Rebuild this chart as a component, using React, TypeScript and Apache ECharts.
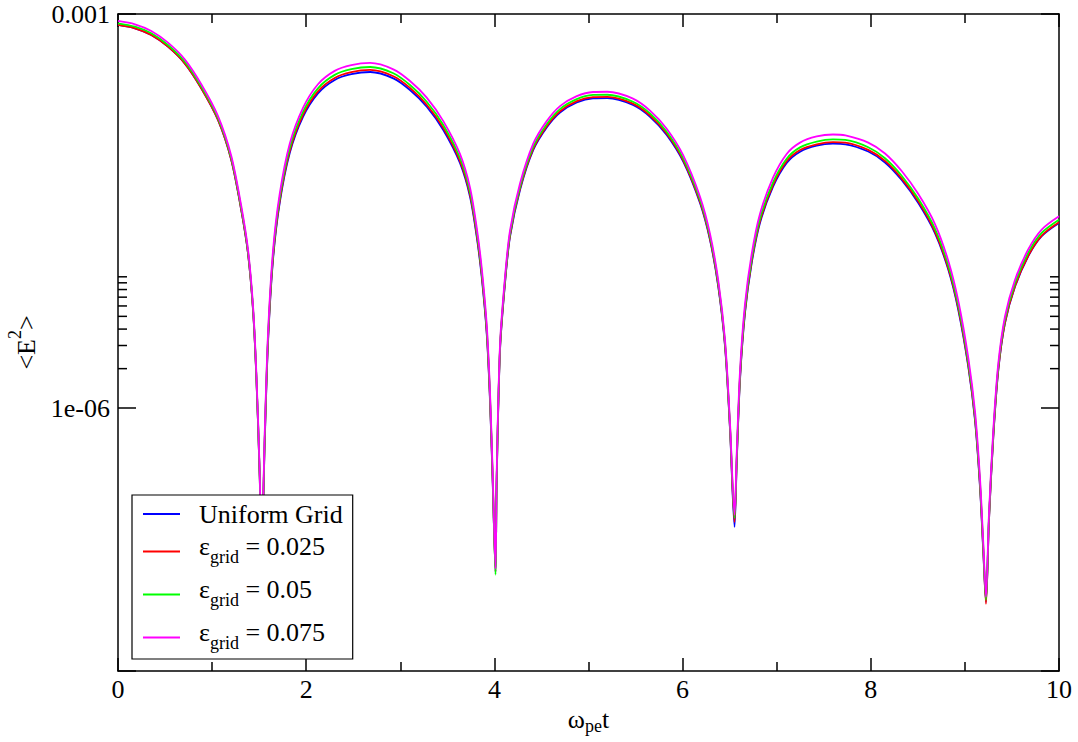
import React, { useEffect, useRef } from "react";
import * as echarts from "echarts";

// Time axis (ω_pe t) shared by all four runs
const omegaT = [
  0, 0.18, 0.354, 0.531, 0.709, 0.885, 1.063, 1.204, 1.31, 1.381, 1.435, 1.47, 1.506, 1.525,
  1.559, 1.594, 1.647, 1.718, 1.825, 1.966, 2.125, 2.303, 2.479, 2.68, 2.926, 3.103, 3.281, 3.457,
  3.634, 3.741, 3.812, 3.865, 3.918, 3.953, 3.982, 4.012,
  4.024, 4.06, 4.113, 4.166, 4.272, 4.413, 4.556, 4.697, 4.875, 5.048, 5.2, 5.473, 5.654, 5.831,
  6.007, 6.185, 6.291, 6.379, 6.451, 6.504, 6.552,
  6.575, 6.61, 6.663, 6.734, 6.822, 6.961, 7.106, 7.248, 7.425, 7.598, 7.73, 7.973, 8.151, 8.328,
  8.505, 8.682, 8.824, 8.93, 9.036, 9.107, 9.16, 9.196, 9.224,
  9.256, 9.302, 9.355, 9.426, 9.532, 9.674, 9.816, 10,
];

// <E^2> for the uniform grid
const uniformGrid = [
  8.25e-4, 7.78e-4, 6.92e-4, 5.64e-4, 4.21e-4, 2.72e-4, 1.56e-4, 7.74e-5, 3.22e-5, 1.52e-5, 5.59e-6, 1.74e-6, 3.01e-7, 7.0e-8,
  5.43e-7, 3.13e-6, 1.34e-5, 3.64e-5, 8.76e-5, 1.65e-4, 2.49e-4, 3.15e-4, 3.48e-4, 3.62e-4, 3.24e-4, 2.64e-4, 1.97e-4, 1.31e-4,
  7.35e-5, 4.07e-5, 2.02e-5, 1.0e-5, 3.73e-6, 1.15e-6, 2.7e-7, 5.67e-8,
  2.7e-7, 2.77e-6, 8.97e-6, 2.02e-5, 4.58e-5, 9.23e-5, 1.37e-4, 1.78e-4, 2.12e-4, 2.28e-4, 2.29e-4, 2.03e-4, 1.65e-4, 1.2e-4,
  7.52e-5, 3.64e-5, 1.91e-5, 8.41e-6, 2.94e-6, 6.83e-7, 1.25e-7,
  3.83e-7, 1.64e-6, 5.3e-6, 1.27e-5, 2.57e-5, 4.85e-5, 7.35e-5, 8.96e-5, 9.95e-5, 1.03e-4, 1.02e-4, 8.98e-5, 7.41e-5, 5.45e-5,
  3.64e-5, 2.15e-5, 1.13e-5, 5.59e-6, 2.07e-6, 8.13e-7, 2.53e-7, 7.91e-8, 3.35e-8,
  1.41e-7, 6.07e-7, 1.95e-6, 4.45e-6, 8.41e-6, 1.44e-5, 2.04e-5, 2.57e-5,
];

// <E^2> for ε_grid = 0.025
const epsGrid025 = [
  8.25e-4, 7.78e-4, 6.92e-4, 5.64e-4, 4.21e-4, 2.72e-4, 1.56e-4, 7.74e-5, 3.22e-5, 1.52e-5, 5.59e-6, 1.74e-6, 3.01e-7, 7.0e-8,
  5.63e-7, 3.24e-6, 1.39e-5, 3.77e-5, 9.08e-5, 1.71e-4, 2.58e-4, 3.26e-4, 3.61e-4, 3.75e-4, 3.36e-4, 2.74e-4, 2.04e-4, 1.36e-4,
  7.61e-5, 4.22e-5, 2.09e-5, 1.04e-5, 3.86e-6, 1.19e-6, 2.8e-7, 5.67e-8,
  2.76e-7, 2.83e-6, 9.18e-6, 2.07e-5, 4.69e-5, 9.44e-5, 1.4e-4, 1.82e-4, 2.17e-4, 2.33e-4, 2.34e-4, 2.08e-4, 1.69e-4, 1.23e-4,
  7.69e-5, 3.72e-5, 1.95e-5, 8.6e-6, 3.01e-6, 6.99e-7, 1.36e-7,
  3.94e-7, 1.69e-6, 5.46e-6, 1.31e-5, 2.65e-5, 5.0e-5, 7.57e-5, 9.23e-5, 1.02e-4, 1.06e-4, 1.05e-4, 9.25e-5, 7.63e-5, 5.61e-5,
  3.75e-5, 2.21e-5, 1.16e-5, 5.76e-6, 2.13e-6, 8.37e-7, 2.61e-7, 8.15e-8, 3.24e-8,
  1.42e-7, 6.13e-7, 1.97e-6, 4.49e-6, 8.49e-6, 1.45e-5, 2.06e-5, 2.6e-5,
];

// <E^2> for ε_grid = 0.05
const epsGrid050 = [
  8.5e-4, 8.01e-4, 7.13e-4, 5.81e-4, 4.34e-4, 2.8e-4, 1.61e-4, 7.97e-5, 3.32e-5, 1.57e-5, 5.76e-6, 1.79e-6, 3.1e-7, 7.2e-8,
  5.93e-7, 3.42e-6, 1.46e-5, 3.97e-5, 9.57e-5, 1.8e-4, 2.72e-4, 3.44e-4, 3.8e-4, 3.95e-4, 3.54e-4, 2.88e-4, 2.15e-4, 1.43e-4,
  8.03e-5, 4.44e-5, 2.21e-5, 1.09e-5, 4.07e-6, 1.26e-6, 2.95e-7, 5.4e-8,
  2.86e-7, 2.94e-6, 9.51e-6, 2.14e-5, 4.85e-5, 9.78e-5, 1.45e-4, 1.89e-4, 2.25e-4, 2.42e-4, 2.43e-4, 2.15e-4, 1.75e-4, 1.27e-4,
  7.97e-5, 3.86e-5, 2.02e-5, 8.91e-6, 3.12e-6, 7.24e-7, 1.46e-7,
  4.13e-7, 1.77e-6, 5.71e-6, 1.37e-5, 2.77e-5, 5.23e-5, 7.92e-5, 9.66e-5, 1.07e-4, 1.11e-4, 1.1e-4, 9.68e-5, 7.99e-5, 5.88e-5,
  3.92e-5, 2.32e-5, 1.22e-5, 6.03e-6, 2.23e-6, 8.76e-7, 2.73e-7, 8.53e-8, 3.47e-8,
  1.49e-7, 6.43e-7, 2.07e-6, 4.72e-6, 8.91e-6, 1.53e-5, 2.16e-5, 2.72e-5,
];

// <E^2> for ε_grid = 0.075
const epsGrid075 = [
  8.85e-4, 8.35e-4, 7.43e-4, 6.05e-4, 4.52e-4, 2.92e-4, 1.67e-4, 8.31e-5, 3.46e-5, 1.63e-5, 6.0e-6, 1.87e-6, 3.23e-7, 7.5e-8,
  6.36e-7, 3.67e-6, 1.57e-5, 4.26e-5, 1.03e-4, 1.93e-4, 2.92e-4, 3.69e-4, 4.08e-4, 4.24e-4, 3.79e-4, 3.09e-4, 2.31e-4, 1.53e-4,
  8.61e-5, 4.77e-5, 2.37e-5, 1.17e-5, 4.37e-6, 1.35e-6, 3.16e-7, 6.0e-8,
  3.02e-7, 3.09e-6, 1.0e-5, 2.26e-5, 5.12e-5, 1.03e-4, 1.53e-4, 1.99e-4, 2.37e-4, 2.55e-4, 2.56e-4, 2.27e-4, 1.84e-4, 1.34e-4,
  8.4e-5, 4.07e-5, 2.13e-5, 9.39e-6, 3.28e-6, 7.63e-7, 1.54e-7,
  4.48e-7, 1.92e-6, 6.21e-6, 1.49e-5, 3.01e-5, 5.68e-5, 8.61e-5, 1.05e-4, 1.17e-4, 1.21e-4, 1.19e-4, 1.05e-4, 8.68e-5, 6.38e-5,
  4.26e-5, 2.52e-5, 1.32e-5, 6.55e-6, 2.42e-6, 9.52e-7, 2.96e-7, 9.26e-8, 3.66e-8,
  1.58e-7, 6.82e-7, 2.19e-6, 5.0e-6, 9.45e-6, 1.62e-5, 2.29e-5, 2.89e-5,
];

const seriesValues = [uniformGrid, epsGrid025, epsGrid050, epsGrid075];
const seriesNames = ["Uniform Grid", "ε_grid = 0.025", "ε_grid = 0.05", "ε_grid = 0.075"];
const seriesColors = ["#0000ff", "#ff0000", "#00ff00", "#ff00ff"];

// Labelled decades on the log axis, and the small ticks of the 1e-6 decade
const yLabelValues = [1e-3, 1e-6];
const yLabelTexts = ["0.001", "1e-06"];
const yMinorTicks = [2e-6, 3e-6, 4e-6, 5e-6, 6e-6, 7e-6, 8e-6, 9e-6, 1e-5];

const FONT = "'Liberation Serif', 'Times New Roman', Times, serif";

// Rich-text legend entry: "ε" with a "grid" subscript, then the value
function legendText(name: string): string {
  const m = name.match(/^ε_grid(.*)$/);
  if (!m) return `{u|${name}}`;
  return `{m|ε}{s|grid}{m|${m[1]}}`;
}

function yLabel(v: number): string {
  const e = Math.round(Math.log10(v));
  const idx = yLabelValues.findIndex((lv) => Math.round(Math.log10(lv)) === e);
  return idx >= 0 ? yLabelTexts[idx] : "";
}

export default function App() {
  const ref = useRef<HTMLDivElement>(null);

  useEffect(() => {
    const el = ref.current;
    if (!el) return;
    const chart = echarts.init(el, undefined, { renderer: "svg" });

    const axisLine = { show: true, onZero: false, lineStyle: { color: "#000", width: 1.5 } };
    const xTick = { show: true, inside: true, length: 13, lineStyle: { color: "#000", width: 1.5 } };
    const xMinor = { show: true, splitNumber: 2, length: 9, lineStyle: { color: "#000", width: 1.5 } };
    const yTick = { show: true, inside: true, length: 18, lineStyle: { color: "#000", width: 1.5 } };

    chart.setOption({
      animation: false,
      backgroundColor: "#fff",
      textStyle: { fontFamily: FONT },
      grid: { left: 118, top: 14, width: 941, height: 657, containLabel: false, outerBoundsMode: "none" },
      xAxis: [
        {
          type: "value",
          min: 0,
          max: 10,
          interval: 2,
          position: "bottom",
          axisLine,
          axisTick: xTick,
          minorTick: xMinor,
          splitLine: { show: false },
          minorSplitLine: { show: false },
          axisLabel: { fontFamily: FONT, fontSize: 26, color: "#000", margin: 5 },
          name: "{a|ω}{b|pe}{a|t}",
          nameLocation: "middle",
          nameGap: 25,
          nameTextStyle: {
            fontFamily: FONT,
            rich: {
              a: { fontFamily: FONT, fontSize: 26, color: "#000" },
              b: { fontFamily: FONT, fontSize: 18, color: "#000", padding: [12, 0, 0, 0] },
            },
          },
        },
        {
          type: "value",
          min: 0,
          max: 10,
          interval: 2,
          position: "top",
          axisLine,
          axisTick: xTick,
          minorTick: xMinor,
          splitLine: { show: false },
          minorSplitLine: { show: false },
          axisLabel: { show: false },
        },
      ],
      yAxis: [
        {
          type: "log",
          logBase: 1000,
          min: 1e-8,
          max: 1e-3,
          position: "left",
          axisLine,
          axisTick: yTick,
          minorTick: { show: false },
          splitLine: { show: false },
          axisLabel: { fontFamily: FONT, fontSize: 26, color: "#000", margin: 8, formatter: yLabel },
          name: "{a|<E}{s|2}{a|>}",
          nameLocation: "middle",
          nameGap: 70,
          nameTextStyle: {
            fontFamily: FONT,
            rich: {
              a: { fontFamily: FONT, fontSize: 26, color: "#000", padding: [12, 0, 0, 0] },
              s: { fontFamily: FONT, fontSize: 18, color: "#000", padding: [0, 0, 12, 0] },
            },
          },
        },
        {
          type: "log",
          logBase: 1000,
          min: 1e-8,
          max: 1e-3,
          position: "right",
          axisLine,
          axisTick: yTick,
          minorTick: { show: false },
          splitLine: { show: false },
          axisLabel: { show: false },
        },
      ],
      legend: {
        orient: "vertical",
        left: 132,
        top: 495,
        padding: [6, 10, 3, 11],
        itemGap: 6,
        itemWidth: 37,
        itemHeight: 2,
        icon: "rect",
        backgroundColor: "#fff",
        borderColor: "#000",
        borderWidth: 1.2,
        borderRadius: 0,
        data: seriesNames,
        formatter: legendText,
        textStyle: {
          fontFamily: FONT,
          fontSize: 26,
          color: "#000",
          padding: [0, 0, 0, 14],
          rich: {
            u: { fontFamily: FONT, fontSize: 26, color: "#000", lineHeight: 22 },
            m: { fontFamily: FONT, fontSize: 26, color: "#000", lineHeight: 40, padding: [0, 0, 11, 0] },
            s: { fontFamily: FONT, fontSize: 18, color: "#000", lineHeight: 40, padding: [11, 0, 0, 0] },
          },
        },
      },
      series: seriesValues.map((vals, i) => ({
        name: seriesNames[i],
        type: "line",
        xAxisIndex: 0,
        yAxisIndex: 0,
        data: omegaT.map((t, k) => [t, vals[k]]),
        showSymbol: false,
        symbol: "none",
        smooth: 0.3,
        lineStyle: { width: 1.8, color: seriesColors[i] },
        itemStyle: { color: seriesColors[i] },
      })),
    });

    // Small ticks inside the 1e-6 decade, on both vertical frame edges
    const xl = chart.convertToPixel({ xAxisIndex: 0 }, 0) as number;
    const xr = chart.convertToPixel({ xAxisIndex: 0 }, 10) as number;
    const minorLines = yMinorTicks.flatMap((v) => {
      const y = chart.convertToPixel({ yAxisIndex: 0 }, v) as number;
      const style = { stroke: "#000", lineWidth: 1.5 };
      return [
        { type: "line", shape: { x1: xl, y1: y, x2: xl + 9, y2: y }, style, silent: true },
        { type: "line", shape: { x1: xr - 9, y1: y, x2: xr, y2: y }, style, silent: true },
      ];
    });
    chart.setOption({ graphic: minorLines });

    return () => chart.dispose();
  }, []);

  return (
    <div
      ref={ref}
      style={{ position: "fixed", left: 0, top: 0, width: 1078, height: 742, background: "#fff" }}
    />
  );
}
